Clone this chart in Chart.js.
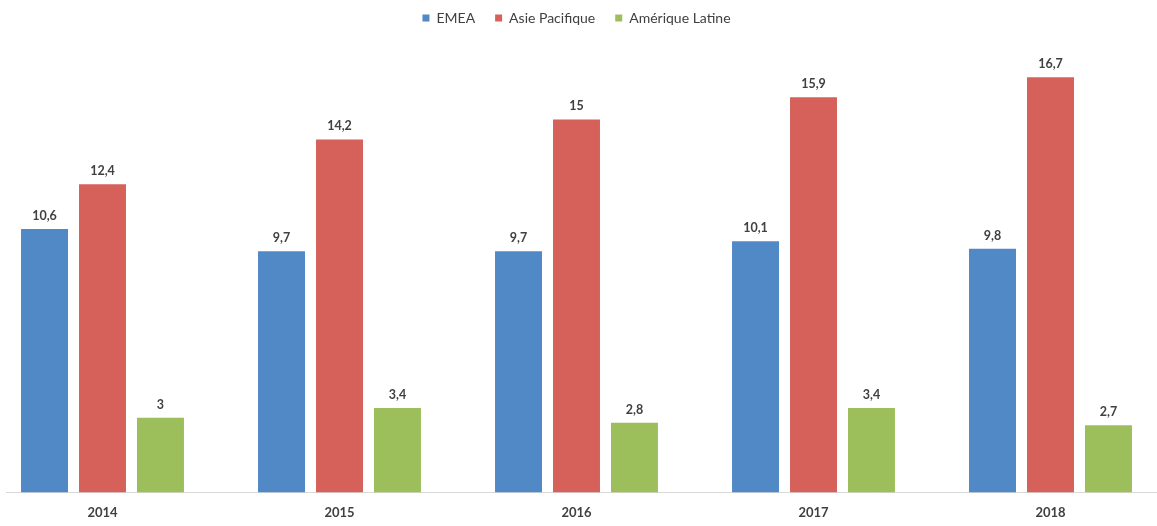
<!DOCTYPE html>
<html>
<head>
<meta charset="utf-8">
<script src="https://cdn.jsdelivr.net/npm/chart.js@4"></script>
<style>
  html, body { margin: 0; padding: 0; background: #ffffff; overflow: hidden; }
  #clip { position: absolute; left: 6px; top: 0; width: 1151px; height: 526px; overflow: hidden; }
  #wrap { position: absolute; left: -22.5px; top: 0; width: 1185px; height: 526px; }
</style>
</head>
<body>
<div id="clip"><div id="wrap"><canvas id="c" width="1185" height="526"></canvas></div></div>
<script>
const categories = ["2014", "2015", "2016", "2017", "2018"];
const seriesNames = ["EMEA", "Asie Pacifique", "Amérique Latine"];
const emea = [10.6, 9.7, 9.7, 10.1, 9.8];
const asiePacifique = [12.4, 14.2, 15, 15.9, 16.7];
const ameriqueLatine = [3, 3.4, 2.8, 3.4, 2.7];
const colors = ["#5189c7", "#d6615b", "#9dbf5b"];

const fmt = v => String(v).replace('.', ',');

const labelPlugin = {
  id: 'valueLabels',
  afterDatasetsDraw(chart) {
    const ctx = chart.ctx;
    ctx.save();
    ctx.font = 'bold 12.5px Lato, "Liberation Sans", sans-serif';
    ctx.fillStyle = '#404040';
    ctx.textAlign = 'center';
    ctx.textBaseline = 'bottom';
    chart.data.datasets.forEach((ds, i) => {
      const meta = chart.getDatasetMeta(i);
      meta.data.forEach((bar, j) => {
        ctx.fillText(fmt(ds.data[j]), bar.x, bar.y - 7);
      });
    });
    ctx.restore();
  }
};

const legendSpacer = {
  id: 'legendSpacer',
  beforeInit(chart) {
    const origFit = chart.legend.fit;
    chart.legend.fit = function () {
      origFit.bind(chart.legend)();
      this.height += 10;
    };
  }
};

new Chart(document.getElementById('c'), {
  type: 'bar',
  data: {
    labels: categories,
    datasets: [
      { label: seriesNames[0], data: emea, backgroundColor: colors[0] },
      { label: seriesNames[1], data: asiePacifique, backgroundColor: colors[1] },
      { label: seriesNames[2], data: ameriqueLatine, backgroundColor: colors[2] }
    ]
  },
  options: {
    responsive: false,
    animation: false,
    devicePixelRatio: 1,
    layout: { padding: { top: -9, bottom: -8, left: 0, right: 0 } },
    datasets: { bar: { categoryPercentage: 0.734, barPercentage: 0.81 } },
    plugins: {
      legend: {
        position: 'top',
        labels: {
          boxWidth: 7, boxHeight: 7, padding: 20,
          color: '#404040',
          font: { family: 'Lato, "Liberation Sans", sans-serif', size: 14, weight: 'normal' }
        }
      },
      tooltip: { enabled: false }
    },
    scales: {
      x: {
        grid: { display: false, drawTicks: false },
        border: { display: true, color: '#d9d9d9', width: 1 },
        ticks: { color: '#404040', padding: 13, font: { family: 'Lato, "Liberation Sans", sans-serif', size: 13, weight: 'bold' } }
      },
      y: { display: false, min: 0, max: 18 }
    }
  },
  plugins: [labelPlugin, legendSpacer]
});
</script>
</body>
</html>
